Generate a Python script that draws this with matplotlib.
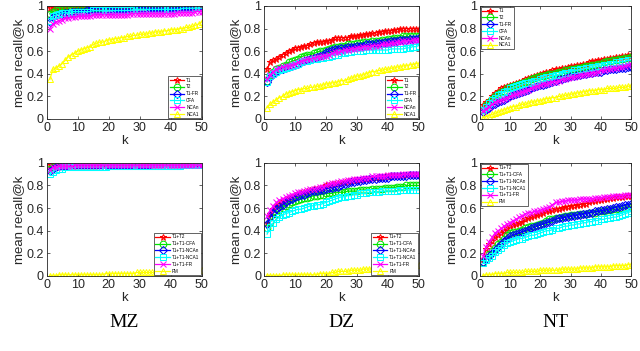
import matplotlib
matplotlib.use("Agg")
import matplotlib.pyplot as plt
import numpy as np

plt.rcParams['font.family'] = ['Liberation Sans', 'DejaVu Sans']

k = list(range(1, 51))

# ---------------- Top row ----------------
top_labels = ["T1", "T2", "T1-FR", "CFA", "NCAn", "NCA1"]

mz_top_t1 = [0.98,0.99,0.99,0.99,0.99,0.99,0.99,0.99,0.99,0.99,
             0.99,0.99,0.99,0.99,0.99,0.99,0.99,0.99,0.99,0.99,
             0.99,0.99,0.99,0.99,1.00,1.00,1.00,1.00,1.00,1.00,
             1.00,1.00,1.00,1.00,1.00,1.00,1.00,1.00,1.00,1.00,
             1.00,1.00,1.00,1.00,1.00,1.00,1.00,1.00,1.00,1.00]
mz_top_t2 = [0.93,0.95,0.96,0.96,0.97,0.97,0.97,0.97,0.97,0.98,
             0.98,0.98,0.98,0.98,0.98,0.98,0.98,0.99,0.99,0.99,
             0.99,0.99,0.99,0.99,0.99,0.99,1.00,1.00,1.00,1.00,
             1.00,1.00,1.00,1.00,1.00,1.00,1.00,1.00,1.00,1.00,
             1.00,1.00,1.00,1.00,1.00,1.00,1.00,1.00,1.00,1.00]
mz_top_t1fr = [0.86,0.90,0.92,0.93,0.93,0.94,0.94,0.95,0.95,0.95,
               0.95,0.95,0.96,0.96,0.96,0.96,0.96,0.96,0.96,0.96,
               0.96,0.97,0.97,0.97,0.97,0.97,0.97,0.97,0.97,0.97,
               0.97,0.97,0.98,0.98,0.98,0.98,0.98,0.98,0.98,0.98,
               0.98,0.98,0.99,0.99,0.99,0.99,0.99,1.00,1.00,1.00]
mz_top_cfa = [0.87,0.91,0.92,0.93,0.94,0.94,0.94,0.95,0.95,0.95,
              0.95,0.95,0.95,0.95,0.96,0.96,0.96,0.96,0.96,0.96,
              0.96,0.96,0.96,0.96,0.96,0.96,0.96,0.97,0.97,0.97,
              0.97,0.97,0.97,0.97,0.97,0.97,0.97,0.97,0.97,0.97,
              0.97,0.97,0.97,0.98,0.98,0.98,0.98,0.98,0.98,0.98]
mz_top_ncan = [0.80,0.84,0.86,0.87,0.88,0.89,0.89,0.90,0.90,0.91,
               0.91,0.91,0.91,0.91,0.92,0.92,0.92,0.92,0.92,0.92,
               0.92,0.92,0.92,0.92,0.92,0.92,0.93,0.93,0.93,0.93,
               0.93,0.93,0.93,0.93,0.93,0.93,0.93,0.93,0.93,0.93,
               0.93,0.94,0.94,0.94,0.94,0.94,0.94,0.95,0.95,0.95]
mz_top_nca1 = [0.35,0.44,0.45,0.47,0.49,0.52,0.55,0.57,0.58,0.60,
               0.61,0.62,0.63,0.64,0.66,0.67,0.68,0.68,0.69,0.70,
               0.70,0.71,0.71,0.72,0.72,0.73,0.73,0.74,0.74,0.75,
               0.75,0.75,0.76,0.76,0.77,0.77,0.77,0.78,0.78,0.79,
               0.79,0.79,0.80,0.80,0.81,0.81,0.82,0.83,0.84,0.86]

dz_top_t1 = [0.44,0.50,0.52,0.53,0.55,0.57,0.58,0.60,0.61,0.63,
             0.63,0.64,0.65,0.65,0.66,0.67,0.68,0.68,0.68,0.69,
             0.69,0.70,0.72,0.72,0.72,0.72,0.72,0.73,0.73,0.73,
             0.74,0.74,0.75,0.75,0.76,0.76,0.77,0.77,0.78,0.78,
             0.78,0.79,0.79,0.80,0.80,0.80,0.80,0.80,0.80,0.80]
dz_top_t2 = [0.34,0.39,0.42,0.44,0.45,0.47,0.48,0.50,0.51,0.52,
             0.53,0.55,0.56,0.57,0.57,0.58,0.59,0.60,0.60,0.61,
             0.62,0.63,0.64,0.64,0.65,0.65,0.66,0.66,0.66,0.67,
             0.67,0.68,0.68,0.68,0.69,0.69,0.69,0.70,0.70,0.71,
             0.71,0.72,0.72,0.72,0.73,0.73,0.73,0.73,0.73,0.73]
dz_top_t1fr = [0.33,0.37,0.40,0.42,0.43,0.44,0.45,0.46,0.47,0.48,
               0.49,0.50,0.51,0.52,0.53,0.54,0.55,0.56,0.57,0.59,
               0.60,0.61,0.62,0.62,0.63,0.63,0.64,0.64,0.64,0.65,
               0.65,0.65,0.66,0.66,0.66,0.67,0.67,0.67,0.68,0.68,
               0.69,0.69,0.69,0.70,0.70,0.70,0.71,0.71,0.71,0.72]
dz_top_cfa = [0.33,0.38,0.40,0.42,0.43,0.44,0.45,0.46,0.47,0.48,
              0.49,0.50,0.51,0.51,0.52,0.53,0.53,0.54,0.54,0.55,
              0.55,0.56,0.57,0.57,0.58,0.58,0.59,0.59,0.60,0.60,
              0.60,0.60,0.61,0.61,0.61,0.61,0.61,0.61,0.61,0.61,
              0.62,0.62,0.62,0.62,0.62,0.63,0.63,0.64,0.64,0.65]
dz_top_ncan = [0.35,0.39,0.42,0.44,0.45,0.46,0.47,0.47,0.48,0.49,
               0.50,0.51,0.52,0.53,0.53,0.54,0.55,0.55,0.56,0.56,
               0.57,0.58,0.59,0.59,0.60,0.61,0.61,0.62,0.62,0.63,
               0.63,0.64,0.64,0.64,0.65,0.65,0.65,0.66,0.66,0.66,
               0.67,0.67,0.68,0.68,0.69,0.69,0.69,0.70,0.70,0.70]
dz_top_nca1 = [0.10,0.13,0.15,0.17,0.19,0.20,0.22,0.23,0.24,0.25,
               0.26,0.26,0.27,0.27,0.28,0.28,0.29,0.29,0.30,0.31,
               0.31,0.32,0.32,0.33,0.34,0.34,0.35,0.36,0.37,0.38,
               0.38,0.39,0.40,0.41,0.42,0.42,0.43,0.43,0.44,0.44,
               0.45,0.45,0.46,0.46,0.47,0.47,0.48,0.48,0.49,0.49]

nt_top_t1 = [0.12,0.15,0.17,0.20,0.23,0.25,0.27,0.28,0.29,0.30,
             0.31,0.32,0.33,0.34,0.35,0.36,0.37,0.38,0.39,0.40,
             0.41,0.42,0.42,0.43,0.44,0.44,0.45,0.45,0.46,0.47,
             0.47,0.48,0.48,0.49,0.49,0.50,0.51,0.51,0.52,0.52,
             0.53,0.53,0.54,0.54,0.55,0.55,0.56,0.56,0.57,0.57]
nt_top_t2 = [0.08,0.12,0.15,0.18,0.20,0.22,0.24,0.25,0.27,0.28,
             0.29,0.30,0.31,0.32,0.33,0.34,0.35,0.36,0.37,0.38,
             0.38,0.39,0.40,0.40,0.41,0.42,0.42,0.43,0.43,0.44,
             0.44,0.45,0.45,0.46,0.47,0.47,0.48,0.48,0.49,0.49,
             0.50,0.51,0.51,0.52,0.52,0.53,0.53,0.54,0.54,0.55]
nt_top_t1fr = [0.06,0.08,0.10,0.12,0.13,0.15,0.16,0.17,0.19,0.20,
               0.21,0.22,0.23,0.24,0.25,0.26,0.27,0.28,0.29,0.30,
               0.30,0.31,0.32,0.33,0.34,0.35,0.35,0.36,0.37,0.38,
               0.38,0.39,0.39,0.40,0.40,0.41,0.41,0.42,0.42,0.42,
               0.43,0.43,0.44,0.44,0.44,0.45,0.45,0.45,0.46,0.46]
nt_top_cfa = [0.08,0.11,0.14,0.17,0.19,0.21,0.22,0.24,0.25,0.27,
              0.28,0.29,0.30,0.31,0.32,0.32,0.33,0.34,0.34,0.35,
              0.36,0.37,0.37,0.38,0.39,0.39,0.40,0.41,0.41,0.42,
              0.43,0.43,0.44,0.44,0.45,0.45,0.46,0.46,0.47,0.47,
              0.48,0.48,0.49,0.49,0.50,0.50,0.51,0.51,0.52,0.52]
nt_top_ncan = [0.07,0.09,0.11,0.13,0.15,0.16,0.17,0.18,0.19,0.20,
               0.21,0.22,0.23,0.24,0.25,0.26,0.27,0.28,0.29,0.30,
               0.31,0.31,0.32,0.33,0.33,0.34,0.35,0.35,0.36,0.37,
               0.37,0.38,0.39,0.39,0.40,0.40,0.41,0.41,0.42,0.43,
               0.43,0.44,0.44,0.45,0.45,0.46,0.46,0.47,0.48,0.49]
nt_top_nca1 = [0.01,0.02,0.03,0.04,0.05,0.06,0.07,0.08,0.09,0.10,
               0.11,0.11,0.12,0.13,0.13,0.14,0.15,0.15,0.16,0.16,
               0.17,0.18,0.18,0.19,0.19,0.20,0.20,0.21,0.21,0.22,
               0.22,0.23,0.23,0.24,0.24,0.25,0.25,0.25,0.26,0.26,
               0.26,0.27,0.27,0.27,0.27,0.28,0.28,0.28,0.29,0.29]

# ---------------- Bottom row ----------------
bottom_labels = ["T1+T2", "T1+T1-CFA", "T1+T1-NCAn", "T1+T1-NCA1", "T1+T1-FR", "FM"]

mz_bot_a = [0.98,0.99,0.99,0.99,0.99,0.99,0.99,0.99,0.99,0.99,
            0.99,0.99,0.99,0.99,0.99,0.99,0.99,0.99,0.99,0.99,
            1.00,1.00,1.00,1.00,1.00,1.00,1.00,1.00,1.00,1.00,
            1.00,1.00,1.00,1.00,1.00,1.00,1.00,1.00,1.00,1.00,
            1.00,1.00,1.00,1.00,1.00,1.00,1.00,1.00,1.00,1.00]
mz_bot_b = [0.95,0.96,0.97,0.97,0.98,0.98,0.98,0.98,0.98,0.98,
            0.98,0.98,0.98,0.98,0.98,0.98,0.99,0.99,0.99,0.99,
            0.99,0.99,0.99,0.99,0.99,0.99,0.99,0.99,0.99,0.99,
            0.99,0.99,0.99,0.99,0.99,0.99,0.99,0.99,0.99,0.99,
            0.99,0.99,0.99,0.99,0.99,0.99,0.99,0.99,0.99,0.99]
mz_bot_c = [0.93,0.95,0.96,0.97,0.97,0.97,0.97,0.98,0.98,0.98,
            0.98,0.98,0.98,0.98,0.98,0.98,0.98,0.98,0.98,0.98,
            0.98,0.98,0.98,0.98,0.98,0.98,0.98,0.98,0.98,0.98,
            0.98,0.98,0.98,0.99,0.99,0.99,0.99,0.99,0.99,0.99,
            0.99,0.99,0.99,0.99,0.99,0.99,0.99,0.99,0.99,0.99]
mz_bot_d = [0.90,0.92,0.94,0.95,0.95,0.96,0.96,0.96,0.96,0.96,
            0.96,0.96,0.96,0.96,0.96,0.96,0.96,0.96,0.96,0.97,
            0.97,0.97,0.97,0.97,0.97,0.97,0.97,0.97,0.97,0.97,
            0.97,0.97,0.97,0.97,0.97,0.97,0.97,0.97,0.97,0.97,
            0.97,0.97,0.97,0.98,0.98,0.98,0.98,0.98,0.98,0.98]
mz_bot_e = [0.94,0.96,0.96,0.97,0.97,0.97,0.97,0.97,0.98,0.98,
            0.98,0.98,0.98,0.98,0.98,0.98,0.98,0.98,0.98,0.98,
            0.98,0.98,0.98,0.98,0.98,0.98,0.98,0.98,0.98,0.98,
            0.98,0.98,0.98,0.98,0.98,0.98,0.98,0.98,0.98,0.98,
            0.98,0.98,0.98,0.98,0.98,0.98,0.98,0.98,0.98,0.98]
mz_bot_f = [0.00,0.00,0.00,0.01,0.01,0.01,0.01,0.01,0.01,0.01,
            0.01,0.01,0.01,0.01,0.01,0.01,0.01,0.01,0.02,0.02,
            0.02,0.02,0.02,0.02,0.02,0.02,0.02,0.02,0.03,0.03,
            0.03,0.03,0.03,0.03,0.03,0.03,0.03,0.04,0.04,0.04,
            0.04,0.04,0.04,0.04,0.04,0.04,0.05,0.05,0.05,0.05]

dz_bot_a = [0.47,0.55,0.59,0.62,0.64,0.66,0.68,0.69,0.70,0.72,
            0.72,0.73,0.74,0.75,0.76,0.77,0.77,0.78,0.79,0.80,
            0.80,0.81,0.81,0.82,0.82,0.83,0.84,0.84,0.85,0.85,
            0.85,0.86,0.86,0.86,0.87,0.87,0.87,0.87,0.88,0.88,
            0.88,0.88,0.88,0.88,0.89,0.89,0.89,0.89,0.89,0.89]
dz_bot_b = [0.42,0.48,0.52,0.55,0.58,0.60,0.62,0.64,0.65,0.66,
            0.67,0.68,0.69,0.69,0.70,0.71,0.71,0.72,0.72,0.73,
            0.73,0.73,0.74,0.74,0.74,0.74,0.75,0.75,0.75,0.75,
            0.76,0.76,0.76,0.76,0.77,0.77,0.77,0.77,0.78,0.78,
            0.78,0.78,0.79,0.79,0.79,0.80,0.80,0.80,0.80,0.80]
dz_bot_c = [0.46,0.52,0.56,0.59,0.61,0.63,0.65,0.67,0.68,0.70,
            0.71,0.72,0.72,0.73,0.74,0.75,0.75,0.76,0.76,0.77,
            0.78,0.78,0.79,0.79,0.80,0.81,0.82,0.83,0.83,0.84,
            0.84,0.85,0.85,0.86,0.86,0.86,0.87,0.87,0.87,0.87,
            0.88,0.88,0.88,0.88,0.88,0.88,0.89,0.89,0.89,0.89]
dz_bot_d = [0.37,0.43,0.47,0.50,0.52,0.54,0.55,0.56,0.57,0.58,
            0.59,0.59,0.60,0.61,0.62,0.62,0.63,0.63,0.64,0.65,
            0.66,0.67,0.68,0.69,0.70,0.70,0.71,0.71,0.72,0.72,
            0.73,0.73,0.73,0.74,0.74,0.74,0.74,0.75,0.75,0.75,
            0.75,0.75,0.75,0.76,0.76,0.76,0.76,0.76,0.76,0.76]
dz_bot_e = [0.53,0.58,0.62,0.65,0.67,0.68,0.70,0.71,0.72,0.73,
            0.74,0.74,0.75,0.76,0.77,0.77,0.78,0.79,0.79,0.80,
            0.81,0.82,0.82,0.83,0.84,0.84,0.85,0.85,0.86,0.86,
            0.86,0.87,0.87,0.87,0.88,0.88,0.88,0.88,0.88,0.89,
            0.89,0.89,0.89,0.89,0.90,0.90,0.90,0.90,0.90,0.90]
dz_bot_f = [0.00,0.00,0.00,0.00,0.00,0.01,0.01,0.01,0.01,0.01,
            0.01,0.01,0.01,0.01,0.01,0.01,0.01,0.02,0.02,0.02,
            0.02,0.03,0.03,0.04,0.04,0.04,0.04,0.05,0.05,0.05,
            0.05,0.06,0.06,0.06,0.07,0.07,0.07,0.08,0.08,0.08,
            0.08,0.08,0.09,0.09,0.09,0.09,0.10,0.10,0.10,0.10]

nt_bot_a = [0.15,0.24,0.28,0.31,0.34,0.36,0.38,0.40,0.42,0.44,
            0.45,0.46,0.47,0.48,0.50,0.51,0.52,0.53,0.54,0.55,
            0.56,0.57,0.57,0.58,0.59,0.59,0.60,0.61,0.61,0.62,
            0.62,0.63,0.63,0.64,0.64,0.65,0.66,0.66,0.67,0.67,
            0.68,0.68,0.69,0.69,0.70,0.70,0.70,0.71,0.71,0.71]
nt_bot_b = [0.12,0.16,0.19,0.22,0.25,0.28,0.30,0.33,0.36,0.38,
            0.39,0.39,0.40,0.41,0.42,0.43,0.44,0.44,0.45,0.46,
            0.47,0.49,0.50,0.50,0.51,0.51,0.52,0.53,0.53,0.54,
            0.54,0.54,0.55,0.55,0.55,0.56,0.56,0.56,0.57,0.57,
            0.57,0.58,0.58,0.59,0.59,0.59,0.60,0.60,0.61,0.61]
nt_bot_c = [0.12,0.15,0.18,0.20,0.23,0.26,0.28,0.31,0.33,0.35,
            0.36,0.37,0.38,0.39,0.40,0.41,0.42,0.43,0.44,0.45,
            0.46,0.47,0.48,0.49,0.50,0.51,0.51,0.52,0.52,0.53,
            0.53,0.54,0.54,0.55,0.55,0.56,0.56,0.57,0.57,0.58,
            0.58,0.59,0.59,0.60,0.61,0.61,0.62,0.63,0.63,0.64]
nt_bot_d = [0.11,0.14,0.16,0.18,0.21,0.23,0.25,0.27,0.29,0.30,
            0.31,0.32,0.33,0.33,0.34,0.35,0.36,0.36,0.37,0.38,
            0.39,0.40,0.40,0.41,0.42,0.42,0.43,0.44,0.44,0.45,
            0.45,0.46,0.46,0.47,0.47,0.48,0.48,0.49,0.49,0.50,
            0.50,0.51,0.51,0.52,0.52,0.53,0.54,0.55,0.56,0.57]
nt_bot_e = [0.18,0.26,0.30,0.34,0.38,0.40,0.42,0.44,0.46,0.47,
            0.49,0.50,0.52,0.53,0.55,0.56,0.56,0.57,0.57,0.58,
            0.59,0.60,0.61,0.63,0.65,0.65,0.66,0.66,0.67,0.67,
            0.67,0.67,0.68,0.68,0.68,0.68,0.68,0.69,0.69,0.69,
            0.70,0.70,0.70,0.71,0.71,0.71,0.71,0.72,0.72,0.72]
nt_bot_f = [0.00,0.01,0.01,0.01,0.02,0.02,0.02,0.02,0.03,0.03,
            0.03,0.03,0.03,0.03,0.04,0.04,0.04,0.04,0.04,0.05,
            0.05,0.05,0.05,0.05,0.05,0.05,0.06,0.06,0.06,0.06,
            0.06,0.06,0.07,0.07,0.07,0.07,0.07,0.08,0.08,0.08,
            0.08,0.08,0.08,0.09,0.09,0.09,0.09,0.09,0.10,0.10]

captions = ["MZ", "DZ", "NT"]

panels = [
    [mz_top_t1, mz_top_t2, mz_top_t1fr, mz_top_cfa, mz_top_ncan, mz_top_nca1],
    [dz_top_t1, dz_top_t2, dz_top_t1fr, dz_top_cfa, dz_top_ncan, dz_top_nca1],
    [nt_top_t1, nt_top_t2, nt_top_t1fr, nt_top_cfa, nt_top_ncan, nt_top_nca1],
    [mz_bot_a, mz_bot_b, mz_bot_c, mz_bot_d, mz_bot_e, mz_bot_f],
    [dz_bot_a, dz_bot_b, dz_bot_c, dz_bot_d, dz_bot_e, dz_bot_f],
    [nt_bot_a, nt_bot_b, nt_bot_c, nt_bot_d, nt_bot_e, nt_bot_f],
]

colors = [(1, 0, 0), (0, 0.9, 0), (0, 0, 1), (0, 1, 1), (1, 0, 1), (1, 1, 0)]
markers = ['*', 'o', 'D', 's', 'x', '^']
msizes = [5, 4.8, 4.2, 4.6, 4.6, 5]

fig = plt.figure(figsize=(6.4, 3.51), dpi=100)

lefts = [0.073, 0.4125, 0.750]
widths = [0.242, 0.242, 0.236]
bottoms = [0.661, 0.214]
heights = [0.322, 0.322]
legend_locs = ['lower right', 'lower right', 'upper left',
               'lower right', 'lower right', 'upper left']

for idx, series in enumerate(panels):
    row, col = divmod(idx, 3)
    ax = fig.add_axes([lefts[col], bottoms[row], widths[col], heights[row]])
    labels = top_labels if row == 0 else bottom_labels
    for s, lab, c, m, ms in zip(series, labels, colors, markers, msizes):
        ax.plot(k, s, color=c, marker=m, markersize=ms, markerfacecolor='none',
                markeredgewidth=0.75, linewidth=0.9, label=lab)
    ax.set_xlim(0, 50)
    ax.set_ylim(0, 1)
    ax.set_xticks([0, 10, 20, 30, 40, 50])
    ax.set_yticks([0, 0.2, 0.4, 0.6, 0.8, 1])
    ax.set_yticklabels(['0', '0.2', '0.4', '0.6', '0.8', '1'])
    ax.tick_params(direction='in', length=2, width=0.5, labelsize=9,
                   top=True, right=True, colors='#262626', pad=2)
    for sp in ax.spines.values():
        sp.set_linewidth(0.6)
        sp.set_color('#262626')
    ax.set_xlabel('k', fontsize=9.5, labelpad=1, color='#262626')
    ax.set_ylabel('mean recall@k', fontsize=9.5, labelpad=1, color='#262626')
    leg = ax.legend(loc=legend_locs[idx], fontsize=3.3, frameon=True, fancybox=False,
                    framealpha=1, edgecolor='#262626', handlelength=3.2,
                    borderpad=0.35, labelspacing=0.4, handletextpad=0.4,
                    borderaxespad=0.15)
    leg.get_frame().set_linewidth(0.5)

for col, cap in enumerate(captions):
    fig.text(lefts[col] + widths[col] / 2, 0.08, cap, ha='center', va='center',
             fontsize=14, family=['Liberation Serif', 'DejaVu Serif'])

fig.savefig('out.png', dpi=100)
